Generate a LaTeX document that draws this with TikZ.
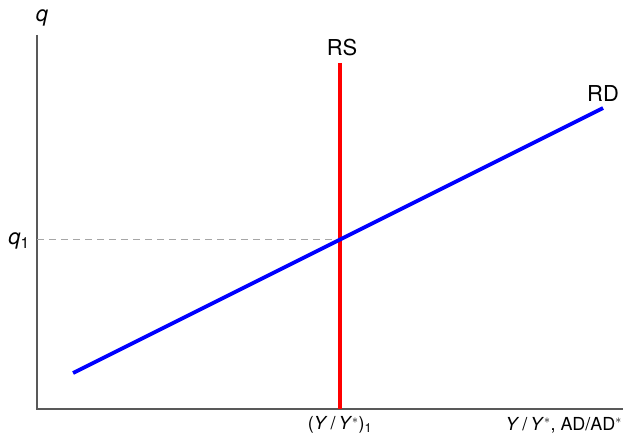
\documentclass[tikz,border=0pt]{standalone}
\usepackage{fontspec}
\setmainfont{TeX Gyre Heros}
\usetikzlibrary{positioning}

\begin{document}
\begin{tikzpicture}[
    x=1bp,y=-1bp,
    every node/.style={font=\fontsize{22}{26}\selectfont,inner sep=1pt},
    small/.style={font=\fontsize{18}{21}\selectfont},
    axis/.style={draw=black!65,line width=1.3bp},
    guide/.style={draw=black!35,line width=1bp,dash pattern=on 7bp off 5bp},
    curve/.style={line width=3.8bp}
]
\useasboundingbox (0,0) rectangle (641,436);

% axes
\coordinate (O) at (37,409);
\coordinate (ytop) at (37,35);
\coordinate (xend) at (623,409);
\draw[axis] (ytop) -- (O) -- (xend);

% curves
\coordinate (rstop) at (340,63);
\coordinate (rsbot) at (340,409);
\coordinate (rdlow) at (73,373);
\coordinate (rdhigh) at (603,108);
\coordinate (eq) at (340,240);
\coordinate (qaxis) at (37,240);

\draw[guide] (qaxis) -- (eq);
\draw[curve,red] (rstop) -- (rsbot);
\draw[curve,blue] (rdlow) -- (rdhigh);

% labels
\node (qlab) at (42,18) {\textit{q}};
\node (q1lab) at (19,241) {\textit{q}\textsubscript{1}};
\node (rslab) at (342,48) {RS};
\node (rdlab) at (603,94) {RD};
\node[small] (y1lab) at (340,425) {(\textit{Y}\,/\,\textit{Y}$^{\ast}$)\textsubscript{1}};
\node[small,anchor=east] (xlab) at (623,425) {\textit{Y}\,/\,\textit{Y}$^{\ast}$, AD/AD$^{\ast}$};
\end{tikzpicture}
\end{document}
